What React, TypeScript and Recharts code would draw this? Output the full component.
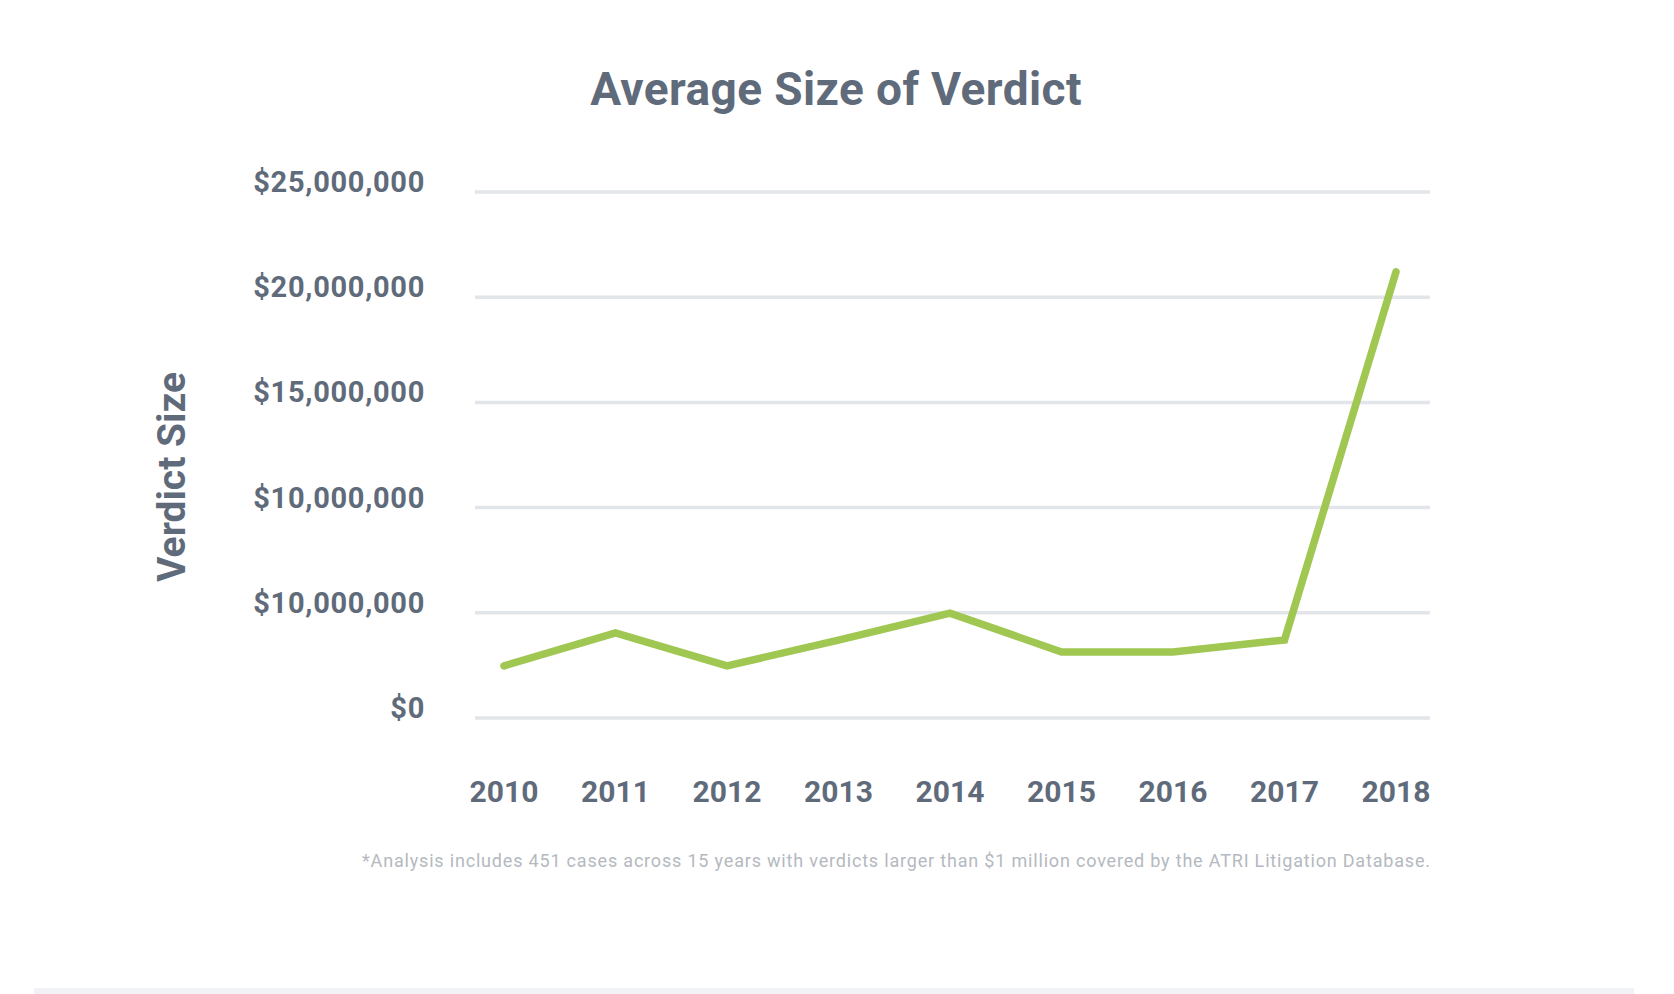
import React from 'react';
import { LineChart, Line, XAxis, YAxis, CartesianGrid } from 'recharts';

const years = ['2010', '2011', '2012', '2013', '2014', '2015', '2016', '2017', '2018'];
const verdictSize = [2480000, 4050000, 2480000, 3700000, 4980000, 3140000, 3140000, 3710000, 21200000];
const yTicks = [0, 5000000, 10000000, 15000000, 20000000, 25000000];
const yTickLabels = ['$0', '$10,000,000', '$10,000,000', '$15,000,000', '$20,000,000', '$25,000,000'];

const data = years.map((year, i) => ({ year, value: verdictSize[i] }));

const TEXT = '#5f6b7a';
const FONT = 'Roboto, "Noto Sans", sans-serif';

const YTick = ({ x, y, payload }: any) => (
  <text
    x={x}
    y={y - 10}
    textAnchor="end"
    dominantBaseline="central"
    fill={TEXT}
    fontFamily={FONT}
    fontWeight={700}
    fontSize={29}
    letterSpacing={0.7}
  >
    {yTickLabels[yTicks.indexOf(payload.value)]}
  </text>
);

const XTick = ({ x, y, payload }: any) => (
  <text
    x={x}
    y={y}
    textAnchor="middle"
    dominantBaseline="central"
    fill={TEXT}
    fontFamily={FONT}
    fontWeight={700}
    fontSize={30}
  >
    {payload.value}
  </text>
);

const App: React.FC = () => {
  return (
    <div style={{ position: 'absolute', left: 0, top: 0, width: 1674, height: 994, background: '#fff' }}>
      <LineChart
        width={1674}
        height={994}
        data={data}
        margin={{ top: 192, right: 244, bottom: 176, left: 0 }}
      >
        <CartesianGrid vertical={false} stroke="#e2e5e9" strokeWidth={3.5} />
        <XAxis
          dataKey="year"
          height={100}
          axisLine={false}
          tickLine={false}
          tickSize={0}
          tickMargin={73}
          padding={{ left: 29, right: 34 }}
          tick={<XTick />}
          interval={0}
        />
        <YAxis
          width={475}
          domain={[0, 25000000]}
          ticks={yTicks}
          axisLine={false}
          tickLine={false}
          tickSize={0}
          tickMargin={50}
          tick={<YTick />}
        />
        <Line
          dataKey="value"
          stroke="#9fc752"
          strokeWidth={7.5}
          strokeLinecap="round"
          dot={false}
          activeDot={false}
          isAnimationActive={false}
        />
      </LineChart>

      <svg
        width={1674}
        height={994}
        style={{ position: 'absolute', left: 0, top: 0, pointerEvents: 'none' }}
      >
        <text
          x={836}
          y={105}
          textAnchor="middle"
          fill={TEXT}
          fontFamily={FONT}
          fontWeight={700}
          fontSize={46}
          letterSpacing={0.4}
        >
          Average Size of Verdict
        </text>
        <text
          x={172}
          y={477}
          transform="rotate(-90 172 477)"
          textAnchor="middle"
          dominantBaseline="central"
          fill={TEXT}
          fontFamily={FONT}
          fontWeight={700}
          fontSize={39}
        >
          Verdict Size
        </text>
        <text
          x={362}
          y={867}
          textLength={1068}
          lengthAdjust="spacing"
          fill="#b4b9c0"
          fontFamily={FONT}
          fontSize={18}
        >
          *Analysis includes 451 cases across 15 years with verdicts larger than $1 million covered by the ATRI Litigation Database.
        </text>
        <rect x={34} y={988} width={1600} height={6} fill="#f0f2f5" />
      </svg>
    </div>
  );
};

export default App;
